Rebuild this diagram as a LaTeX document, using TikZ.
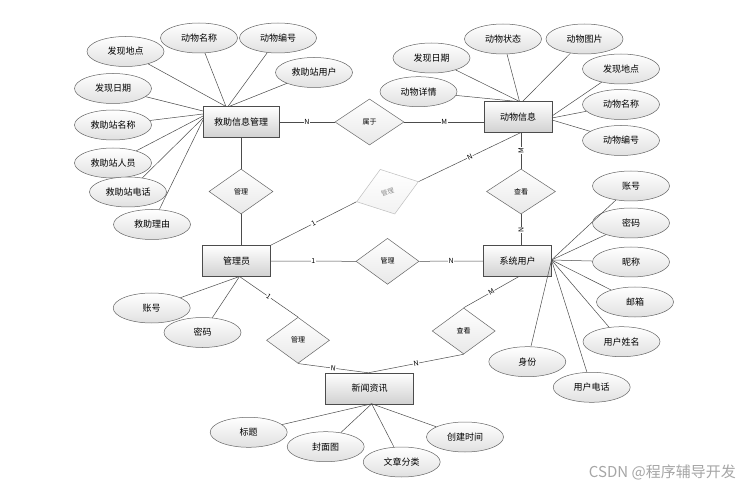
\documentclass[tikz,border=0pt]{standalone}
\usepackage{fontspec}
\setmainfont{Noto Sans CJK SC}
\usetikzlibrary{shapes.geometric,calc}
\begin{document}
\begin{tikzpicture}[x=1pt,y=-1pt,
  ent/.style={draw=black!70, rectangle, top color=white, bottom color=black!18, minimum height=31pt, inner sep=0pt, font=\fontsize{9}{10}\selectfont, line width=0.6pt},
  attr/.style={draw=black!60, ellipse, top color=white, bottom color=black!12, minimum width=77pt, minimum height=30pt, inner sep=0pt, font=\fontsize{9}{10}\selectfont, line width=0.5pt},
  rel/.style={draw=black!60, diamond, top color=white, bottom color=black!9, inner sep=0pt, font=\fontsize{7}{8}\selectfont, line width=0.5pt},
  ln/.style={draw=black!70, line width=0.5pt},
  lab/.style={fill=white, inner sep=0.6pt, font=\fontsize{7}{8}\selectfont},
]
\useasboundingbox (0,0) rectangle (744,486);
\fill[white] (0,0) rectangle (744,486);

% entities
\node[ent, minimum width=76pt] (jz) at (241,122) {救助信息管理};
\node[ent, minimum width=68pt] (dw) at (518,117) {动物信息};
\node[ent, minimum width=68pt] (gly) at (236.5,261) {管理员};
\node[ent, minimum width=68pt] (yh) at (517.5,261) {系统用户};
\node[ent, minimum width=88pt] (xw) at (369.5,388.3) {新闻资讯};

% relations
\node[rel, minimum width=69pt, minimum height=46pt] (d1) at (369.5,122) {属于};
\node[rel, minimum width=64pt, minimum height=45pt] (d2) at (241,191.5) {管理};
\node[rel, draw=black!25, bottom color=black!5, minimum width=65pt, minimum height=47pt, rotate=18] (d3) at (387.5,191.7) {};
\node[font=\fontsize{6.5}{7}\selectfont, text=black!45, rotate=18, inner sep=0pt] (d3t) at (d3.center) {管理};
\node[rel, minimum width=69pt, minimum height=45pt] (d4) at (521,191.5) {查看};
\node[rel, minimum width=63pt, minimum height=46pt] (d5) at (387.5,261.3) {管理};
\node[rel, minimum width=63pt, minimum height=46pt] (d6) at (298,340.3) {管理};
\node[rel, minimum width=63pt, minimum height=46pt] (d7) at (463.7,331) {查看};

% attributes of 救助信息管理
\node[attr] (a1) at (125.5,51.5) {发现地点};
\node[attr] (a2) at (199,38) {动物名称};
\node[attr] (a3) at (278,38) {动物编号};
\node[attr] (a4) at (314,72.5) {救助站用户};
\node[attr] (a5) at (113,88.5) {发现日期};
\node[attr] (a6) at (113,125) {救助站名称};
\node[attr] (a7) at (113,163) {救助站人员};
\node[attr] (a8) at (128,192) {救助站电话};
\node[attr] (a9) at (152,224.5) {救助理由};

% attributes of 动物信息
\node[attr] (b1) at (431.5,58) {发现日期};
\node[attr] (b2) at (503,39) {动物状态};
\node[attr] (b3) at (584.5,39) {动物图片};
\node[attr] (b4) at (418.5,91.7) {动物详情};
\node[attr] (b5) at (621,69) {发现地点};
\node[attr] (b6) at (621,104.5) {动物名称};
\node[attr] (b7) at (621,140.5) {动物编号};

% attributes of 管理员
\node[attr] (c1) at (151.7,308) {账号};
\node[attr] (c2) at (202.5,332.5) {密码};

% attributes of 系统用户
\node[attr] (u1) at (631,186) {账号};
\node[attr] (u2) at (631,223) {密码};
\node[attr] (u3) at (631,262) {昵称};
\node[attr] (u4) at (635,302) {邮箱};
\node[attr] (u5) at (621.5,341.7) {用户姓名};
\node[attr] (u6) at (591.7,387.3) {用户电话};
\node[attr] (u7) at (527.3,361.7) {身份};

% attributes of 新闻资讯
\node[attr] (n1) at (248.7,432.3) {标题};
\node[attr] (n2) at (325.7,446.7) {封面图};
\node[attr] (n3) at (401.7,462) {文章分类};
\node[attr] (n4) at (465,437) {创建时间};

% connection points on entity borders
\coordinate (jzT1) at (226,106.5);
\coordinate (jzT2) at (228,106.5);
\coordinate (jzT3) at (229,106.5);
\coordinate (jzL1) at (203,111);
\coordinate (jzL2) at (203,114);
\coordinate (jzL3) at (203,116);
\coordinate (jzL4) at (203,118);
\coordinate (jzL5) at (203,120);
\coordinate (dwT1) at (517.5,101.5);
\coordinate (dwT2) at (519.5,101.5);
\coordinate (dwT3) at (522.5,101.5);
\coordinate (dwR1) at (552,116);
\coordinate (dwR2) at (552,118);
\coordinate (dwR3) at (552,120);
\coordinate (dwS) at (521,132.5);
\coordinate (dwW) at (484,122);
\coordinate (glyB) at (239.5,276.5);
\coordinate (yhR) at (551.5,260);
\coordinate (yhB) at (519,276.5);
\coordinate (xwT) at (368.3,372.8);
\coordinate (xwB) at (371.7,403.8);

% attribute lines
\draw[ln] (a1) -- (jzT1);
\draw[ln] (a2) -- (jzT1);
\draw[ln] (a3) -- (jzT2);
\draw[ln] (a4) -- (jzT3);
\draw[ln] (a5) -- (jzL1);
\draw[ln] (a6) -- (jzL2);
\draw[ln] (a7) -- (jzL3);
\draw[ln] (a8) -- (jzL4);
\draw[ln] (a9) -- (jzL5);

\draw[ln] (b1) -- (dwT2);
\draw[ln] (b2) -- (dwT2);
\draw[ln] (b3) -- (dwT3);
\draw[ln] (b4) -- (dwT1);
\draw[ln] (b5) -- (dwR1);
\draw[ln] (b6) -- (dwR2);
\draw[ln] (b7) -- (dwR3);

\draw[ln] (c1) -- (glyB);
\draw[ln] (c2) -- (glyB);

\draw[ln] (u1) -- (yhR);
\draw[ln] (u2) -- (yhR);
\draw[ln] (u3) -- (yhR);
\draw[ln] (u4) -- (yhR);
\draw[ln] (u5) -- (yhR);
\draw[ln] (u6) -- (yhR);
\draw[ln] (u7) -- (yhR);

\draw[ln] (n1) -- (xwB);
\draw[ln] (n2) -- (xwB);
\draw[ln] (n3) -- (xwB);
\draw[ln] (n4) -- (xwB);

% relationship lines
\draw[ln] (jz.east) -- node[lab]{N} (d1.west);
\draw[ln] (d1.east) -- node[lab]{M} (dwW);
\draw[ln] (jz.south) -- (d2.north);
\draw[ln] (d2.south) -- (d2.south |- gly.north);
\draw[ln] (gly.north east) -- node[lab, sloped]{1} (d3.west);
\draw[ln] (d3.east) -- node[lab, sloped]{N} (dwS);
\draw[ln] (dwS) -- node[lab, rotate=90]{M} (d4.north);
\draw[ln] (d4.south) -- node[lab, rotate=90]{N} (d4.south |- yh.north);
\draw[ln] (gly.east) -- node[lab]{1} (d5.west);
\draw[ln] (d5.east) -- node[lab]{N} (yh.west);
\draw[ln] (glyB) -- node[lab, sloped]{1} (d6.north);
\draw[ln] (d6.south) -- node[lab, sloped]{N} (xwT);
\draw[ln] (yhB) -- node[lab, sloped]{M} (d7.north);
\draw[ln] (d7.south) -- node[lab, sloped]{N} (xwT);

% watermark
\node[font=\fontsize{15}{16}\selectfont, text=black!35, anchor=east, inner sep=0pt] (wm) at (736,472) {CSDN @程序辅导开发};
\end{tikzpicture}
\end{document}
